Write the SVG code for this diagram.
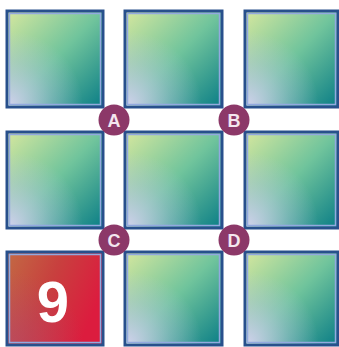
<svg xmlns="http://www.w3.org/2000/svg" width="339" height="347" viewBox="0 0 339 347">
  <defs>
    <linearGradient id="g" x1="0" y1="0" x2="1" y2="1">
      <stop offset="0" stop-color="#d6e79e"/>
      <stop offset="0.5" stop-color="#70c49c"/>
      <stop offset="1" stop-color="#0a7d86"/>
    </linearGradient>
    <radialGradient id="lav" cx="0" cy="1" r="0.8">
      <stop offset="0" stop-color="#d6d2f0" stop-opacity="0.95"/>
      <stop offset="0.6" stop-color="#c2c8ec" stop-opacity="0.35"/>
      <stop offset="1" stop-color="#c2c8ec" stop-opacity="0"/>
    </radialGradient>
    <linearGradient id="red" x1="0" y1="0" x2="1" y2="0.4">
      <stop offset="0" stop-color="#c26a44"/>
      <stop offset="0.5" stop-color="#c8403e"/>
      <stop offset="1" stop-color="#dc1c3e"/>
    </linearGradient>
    <radialGradient id="redlav" cx="0" cy="1" r="0.8">
      <stop offset="0" stop-color="#b04a78" stop-opacity="0.5"/>
      <stop offset="1" stop-color="#b04a78" stop-opacity="0"/>
    </radialGradient>
  </defs>
  <style>
    .outer { stroke: #28508c; stroke-width: 3; }
    .inner { fill: none; stroke: #93a9df; stroke-width: 1.5; }
    .badge { fill: #8c3868; }
    .lbl { font-family: "Liberation Sans", Arial, sans-serif; font-weight: bold; font-size: 18px; fill: #f3e6ee; text-anchor: middle; }
    .num { font-family: "Liberation Sans", Arial, sans-serif; font-weight: bold; font-size: 58px; fill: #ffffff; text-anchor: middle; }
  </style>
  <rect width="339" height="347" fill="#ffffff"/>

  <g id="sq1"><rect class="outer" x="7" y="11" width="96" height="96" fill="url(#g)"/><rect x="8.5" y="12.5" width="93" height="93" fill="url(#lav)"/><rect class="inner" x="9.5" y="13.5" width="91" height="91"/></g>
  <g id="sq2"><rect class="outer" x="125" y="11" width="97" height="96" fill="url(#g)"/><rect x="126.5" y="12.5" width="94" height="93" fill="url(#lav)"/><rect class="inner" x="127.5" y="13.5" width="92" height="91"/></g>
  <g id="sq3"><rect class="outer" x="245" y="11" width="93" height="96" fill="url(#g)"/><rect x="246.5" y="12.5" width="90" height="93" fill="url(#lav)"/><rect class="inner" x="247.5" y="13.5" width="88" height="91"/></g>

  <g id="sq4"><rect class="outer" x="7" y="132" width="96" height="96" fill="url(#g)"/><rect x="8.5" y="133.5" width="93" height="93" fill="url(#lav)"/><rect class="inner" x="9.5" y="134.5" width="91" height="91"/></g>
  <g id="sq5"><rect class="outer" x="125" y="132" width="97" height="96" fill="url(#g)"/><rect x="126.5" y="133.5" width="94" height="93" fill="url(#lav)"/><rect class="inner" x="127.5" y="134.5" width="92" height="91"/></g>
  <g id="sq6"><rect class="outer" x="245" y="132" width="93" height="96" fill="url(#g)"/><rect x="246.5" y="133.5" width="90" height="93" fill="url(#lav)"/><rect class="inner" x="247.5" y="134.5" width="88" height="91"/></g>

  <g id="sq7"><rect class="outer" x="7" y="252" width="96" height="93" fill="url(#red)"/><rect x="8.5" y="253.5" width="93" height="90" fill="url(#redlav)"/><rect class="inner" x="9.5" y="254.5" width="91" height="88" stroke="#7a6aa8"/><text class="num" x="53" y="322">9</text></g>
  <g id="sq8"><rect class="outer" x="125" y="252" width="97" height="93" fill="url(#g)"/><rect x="126.5" y="253.5" width="94" height="90" fill="url(#lav)"/><rect class="inner" x="127.5" y="254.5" width="92" height="88"/></g>
  <g id="sq9"><rect class="outer" x="245" y="252" width="93" height="93" fill="url(#g)"/><rect x="246.5" y="253.5" width="90" height="90" fill="url(#lav)"/><rect class="inner" x="247.5" y="254.5" width="88" height="88"/></g>

  <g id="A"><circle class="badge" cx="114" cy="120" r="15.5"/><text class="lbl" x="114" y="126.5">A</text></g>
  <g id="B"><circle class="badge" cx="234" cy="120" r="15.5"/><text class="lbl" x="234" y="126.5">B</text></g>
  <g id="C"><circle class="badge" cx="114" cy="240" r="15.5"/><text class="lbl" x="114" y="246.5">C</text></g>
  <g id="D"><circle class="badge" cx="234" cy="240" r="15.5"/><text class="lbl" x="234" y="246.5">D</text></g>
</svg>
